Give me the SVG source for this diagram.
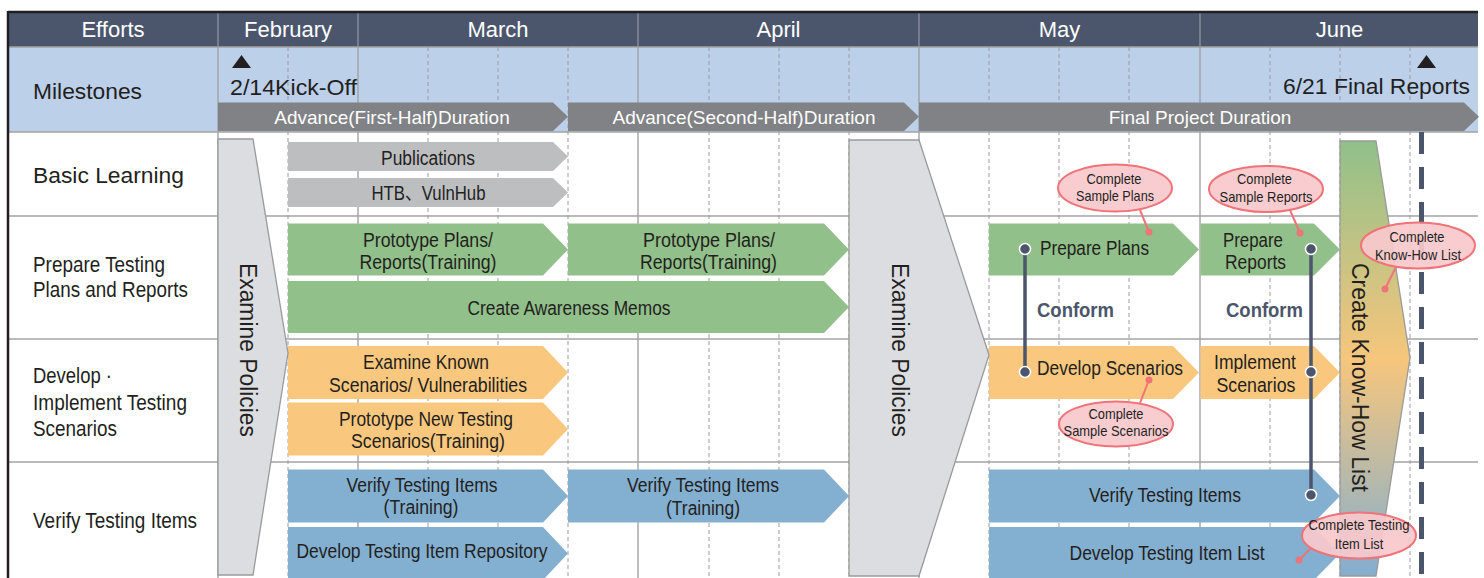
<svg xmlns="http://www.w3.org/2000/svg" width="1484" height="578" viewBox="0 0 1484 578">
<defs>
<style>
text{font-family:"Liberation Sans",Arial,Helvetica,"Noto Sans CJK JP",sans-serif;fill:#231f20}
.hd{font-size:22px;fill:#ffffff;text-anchor:middle}
.lbl{font-size:21.5px}
.dur{font-size:19px;fill:#ffffff;text-anchor:middle}
.at{font-size:20px;text-anchor:middle}
.vt{font-size:23px;text-anchor:middle}
.cf{font-size:21px;font-weight:bold;fill:#4b556c;text-anchor:middle}
.co{font-size:15px;text-anchor:middle}
.gs{stroke:#a3a3a3;stroke-width:1.4;fill:none}
.gd{stroke:#9c9c9c;stroke-width:1;stroke-dasharray:4 3;fill:none}
.durb{fill:#808285}
.gr{fill:#bdbec0}
.gn{fill:#91c08a}
.or{fill:#f9c87e}
.bl{fill:#83afd0}
.ex{fill:#dcdde0;stroke:#9a9a9a;stroke-width:1.3}
.cl{stroke:#4b556c;stroke-width:3.5}
.cd{fill:#4b556c;stroke:#ffffff;stroke-width:1.5}
.pt{stroke:#ef7378;stroke-width:2}
.pd{fill:#ef7378}
.el{fill:#f9c9cc;fill-opacity:0.92;stroke:#ef7378;stroke-width:2}
</style>
<linearGradient id="khg" gradientUnits="userSpaceOnUse" x1="0" y1="141" x2="0" y2="576">
<stop offset="0" stop-color="#90c08a"/>
<stop offset="0.5" stop-color="#f6c67c"/>
<stop offset="1" stop-color="#84aecf"/>
</linearGradient>
</defs>

<g id="background">
<rect x="0" y="0" width="1484" height="578" fill="#ffffff"/>
<rect x="8" y="12" width="1470" height="35" fill="#4b566d"/>
<rect x="8" y="47" width="1470" height="85" fill="#bdd0ea"/>
</g>

<g id="grid">
<line class="gs" x1="8" y1="47" x2="1478" y2="47"/>
<line class="gs" x1="8" y1="132" x2="1478" y2="132"/>
<line class="gs" x1="8" y1="216" x2="1478" y2="216"/>
<line class="gs" x1="8" y1="339" x2="1478" y2="339"/>
<line class="gs" x1="8" y1="462" x2="1478" y2="462"/>
<g stroke="#8d93a0" stroke-width="1.3">
<line x1="218" y1="13" x2="218" y2="47"/>
<line x1="358" y1="13" x2="358" y2="47"/>
<line x1="638" y1="13" x2="638" y2="47"/>
<line x1="919" y1="13" x2="919" y2="47"/>
<line x1="1200" y1="13" x2="1200" y2="47"/>
</g>
<line class="gs" x1="218" y1="47" x2="218" y2="578"/>
<line class="gs" x1="358" y1="47" x2="358" y2="578"/>
<line class="gs" x1="638" y1="47" x2="638" y2="578"/>
<line class="gs" x1="919" y1="47" x2="919" y2="578"/>
<line class="gs" x1="1200" y1="47" x2="1200" y2="578"/>
<line class="gd" x1="288" y1="47" x2="288" y2="578"/>
<line class="gd" x1="428" y1="47" x2="428" y2="578"/>
<line class="gd" x1="498" y1="47" x2="498" y2="578"/>
<line class="gd" x1="568" y1="47" x2="568" y2="578"/>
<line class="gd" x1="709" y1="47" x2="709" y2="578"/>
<line class="gd" x1="779" y1="47" x2="779" y2="578"/>
<line class="gd" x1="849" y1="47" x2="849" y2="578"/>
<line class="gd" x1="989" y1="47" x2="989" y2="578"/>
<line class="gd" x1="1059" y1="47" x2="1059" y2="578"/>
<line class="gd" x1="1129" y1="47" x2="1129" y2="578"/>
<line class="gd" x1="1270" y1="47" x2="1270" y2="578"/>
<line class="gd" x1="1340" y1="47" x2="1340" y2="578"/>
<line class="gd" x1="1410" y1="47" x2="1410" y2="578"/>
<line x1="8" y1="12" x2="1478" y2="12" stroke="#231f20" stroke-width="2.5"/>
<line x1="8" y1="11" x2="8" y2="578" stroke="#231f20" stroke-width="2.5"/>
</g>

<g id="header">
<text class="hd" x="113" y="37">Efforts</text>
<text class="hd" x="288" y="37">February</text>
<text class="hd" x="498" y="37">March</text>
<text class="hd" x="778.5" y="37">April</text>
<text class="hd" x="1059.5" y="37">May</text>
<text class="hd" x="1339.5" y="37">June</text>
</g>

<g id="row-labels">
<text class="lbl" x="33" y="99" textLength="109" lengthAdjust="spacingAndGlyphs">Milestones</text>
<text class="lbl" x="33" y="183" textLength="151" lengthAdjust="spacingAndGlyphs">Basic Learning</text>
<text class="lbl" x="33" y="271.5" textLength="132" lengthAdjust="spacingAndGlyphs">Prepare Testing</text>
<text class="lbl" x="33" y="296.5" textLength="155" lengthAdjust="spacingAndGlyphs">Plans and Reports</text>
<text class="lbl" x="33" y="383" textLength="79" lengthAdjust="spacingAndGlyphs">Develop ·</text>
<text class="lbl" x="33" y="410" textLength="154" lengthAdjust="spacingAndGlyphs">Implement Testing</text>
<text class="lbl" x="33" y="436" textLength="84" lengthAdjust="spacingAndGlyphs">Scenarios</text>
<text class="lbl" x="33" y="528" textLength="164" lengthAdjust="spacingAndGlyphs">Verify Testing Items</text>
</g>

<g id="milestone-kickoff">
<polygon points="232,68 241.5,55 251,68" fill="#231f20"/>
<text x="230" y="95" font-size="22" textLength="127" lengthAdjust="spacingAndGlyphs">2/14Kick-Off</text>
</g>
<g id="milestone-final">
<polygon points="1417,68 1426.5,55 1436,68" fill="#231f20"/>
<text x="1283" y="94" font-size="22" textLength="187" lengthAdjust="spacingAndGlyphs">6/21 Final Reports</text>
</g>

<g id="duration-first">
<polygon class="durb" points="218,102.5 553,102.5 568,116.75 553,131 218,131"/>
<text class="dur" x="392" y="123.5">Advance(First-Half)Duration</text>
</g>
<g id="duration-second">
<polygon class="durb" points="568,102.5 904,102.5 919,116.75 904,131 568,131"/>
<text class="dur" x="744" y="123.5">Advance(Second-Half)Duration</text>
</g>
<g id="duration-final">
<polygon class="durb" points="919,102.5 1464,102.5 1479,116.75 1464,131 919,131"/>
<text class="dur" x="1200" y="123.5">Final Project Duration</text>
</g>

<g id="publications">
<polygon class="gr" points="288,142 553,142 568,156.5 553,171 288,171"/>
<text class="at" x="428" y="165" textLength="94" lengthAdjust="spacingAndGlyphs">Publications</text>
</g>
<g id="htb">
<polygon class="gr" points="288,178 553,178 568,192.5 553,207 288,207"/>
<text class="at" x="428.5" y="200" textLength="114" lengthAdjust="spacingAndGlyphs">HTB、VulnHub</text>
</g>

<g id="prototype-plans-1">
<polygon class="gn" points="288,223.5 543,223.5 568,249.5 543,275.5 288,275.5"/>
<text class="at" x="428" y="246.5" textLength="130" lengthAdjust="spacingAndGlyphs">Prototype Plans/</text>
<text class="at" x="428" y="268.5" textLength="137" lengthAdjust="spacingAndGlyphs">Reports(Training)</text>
</g>
<g id="prototype-plans-2">
<polygon class="gn" points="568,223.5 824,223.5 849,249.5 824,275.5 568,275.5"/>
<text class="at" x="709" y="246.5" textLength="132" lengthAdjust="spacingAndGlyphs">Prototype Plans/</text>
<text class="at" x="708.5" y="268.5" textLength="137" lengthAdjust="spacingAndGlyphs">Reports(Training)</text>
</g>
<g id="awareness-memos">
<polygon class="gn" points="288,281 824,281 849,307 824,333 288,333"/>
<text class="at" x="569" y="315" textLength="203" lengthAdjust="spacingAndGlyphs">Create Awareness Memos</text>
</g>
<g id="prepare-plans">
<polygon class="gn" points="989,223.5 1173,223.5 1199,249.5 1173,275.5 989,275.5"/>
<text class="at" x="1094.5" y="255" textLength="109" lengthAdjust="spacingAndGlyphs">Prepare Plans</text>
</g>
<g id="prepare-reports">
<polygon class="gn" points="1200.5,223.5 1314,223.5 1340,249.5 1314,275.5 1200.5,275.5"/>
<text class="at" x="1253" y="246.5" textLength="60" lengthAdjust="spacingAndGlyphs">Prepare</text>
<text class="at" x="1255.5" y="268.5" textLength="61" lengthAdjust="spacingAndGlyphs">Reports</text>
</g>

<g id="examine-known">
<polygon class="or" points="288,346 543,346 568,372.5 543,399 288,399"/>
<text class="at" x="426" y="369" textLength="126" lengthAdjust="spacingAndGlyphs">Examine Known</text>
<text class="at" x="428" y="391.5" textLength="198" lengthAdjust="spacingAndGlyphs">Scenarios/ Vulnerabilities</text>
</g>
<g id="prototype-scenarios">
<polygon class="or" points="288,402.5 543,402.5 568,429 543,455.5 288,455.5"/>
<text class="at" x="426" y="426" textLength="174" lengthAdjust="spacingAndGlyphs">Prototype New Testing</text>
<text class="at" x="428" y="448" textLength="154" lengthAdjust="spacingAndGlyphs">Scenarios(Training)</text>
</g>
<g id="develop-scenarios">
<polygon class="or" points="989,346 1173,346 1199,372.5 1173,399 989,399"/>
<text class="at" x="1110" y="375" textLength="146" lengthAdjust="spacingAndGlyphs">Develop Scenarios</text>
</g>
<g id="implement-scenarios">
<polygon class="or" points="1200.5,346 1314,346 1340,372.5 1314,399 1200.5,399"/>
<text class="at" x="1255" y="369" textLength="82" lengthAdjust="spacingAndGlyphs">Implement</text>
<text class="at" x="1256" y="391.5" textLength="79" lengthAdjust="spacingAndGlyphs">Scenarios</text>
</g>

<g id="verify-items-1">
<polygon class="bl" points="288,469.5 543,469.5 568,496 543,522.5 288,522.5"/>
<text class="at" x="422" y="491.5" textLength="151" lengthAdjust="spacingAndGlyphs">Verify Testing Items</text>
<text class="at" x="421" y="514" textLength="75" lengthAdjust="spacingAndGlyphs">(Training)</text>
</g>
<g id="item-repository">
<polygon class="bl" points="288,527 543,527 568,553.5 543,580 288,580"/>
<text class="at" x="422" y="558" textLength="251" lengthAdjust="spacingAndGlyphs">Develop Testing Item Repository</text>
</g>
<g id="verify-items-2">
<polygon class="bl" points="568,469.5 824,469.5 849,496 824,522.5 568,522.5"/>
<text class="at" x="703" y="491.5" textLength="152" lengthAdjust="spacingAndGlyphs">Verify Testing Items</text>
<text class="at" x="703" y="514.5" textLength="74" lengthAdjust="spacingAndGlyphs">(Training)</text>
</g>
<g id="verify-items-3">
<polygon class="bl" points="989,469.5 1314,469.5 1340,496 1314,522.5 989,522.5"/>
<text class="at" x="1165" y="502" textLength="152" lengthAdjust="spacingAndGlyphs">Verify Testing Items</text>
</g>
<g id="item-list">
<polygon class="bl" points="989,527 1314,527 1340,553.5 1314,580 989,580"/>
<text class="at" x="1167" y="560" textLength="195" lengthAdjust="spacingAndGlyphs">Develop Testing Item List</text>
</g>

<g id="examine-policies-1">
<polygon class="ex" points="218,139 253,139 288,353 253,575 218,575"/>
<text class="vt" transform="translate(240,350) rotate(90)" textLength="174" lengthAdjust="spacingAndGlyphs">Examine Policies</text>
</g>
<g id="examine-policies-2">
<polygon class="ex" points="849,140 919,140 989,355 919,576 849,576"/>
<text class="vt" transform="translate(892,350) rotate(90)" textLength="174" lengthAdjust="spacingAndGlyphs">Examine Policies</text>
</g>
<g id="know-how-list">
<polygon points="1340,141 1376,141 1410,358 1376,576 1340,576" fill="url(#khg)" stroke="#9a9a9a" stroke-width="1.3"/>
<text class="vt" transform="translate(1352,377.5) rotate(90)" textLength="229" lengthAdjust="spacingAndGlyphs">Create Know-How List</text>
</g>

<g id="final-report-line">
<line x1="1421.5" y1="132" x2="1421.5" y2="578" stroke="#4b556c" stroke-width="5" stroke-dasharray="22 13"/>
</g>

<g id="connectors">
<line class="cl" x1="1025" y1="249" x2="1025" y2="372"/>
<line class="cl" x1="1311" y1="249" x2="1311" y2="495"/>
<circle class="cd" cx="1025" cy="249" r="5.5"/>
<circle class="cd" cx="1025" cy="372" r="5.5"/>
<circle class="cd" cx="1311" cy="249" r="5.5"/>
<circle class="cd" cx="1311" cy="372" r="5.5"/>
<circle class="cd" cx="1311" cy="495" r="5.5"/>
<text class="cf" x="1075.5" y="317" textLength="77" lengthAdjust="spacingAndGlyphs">Conform</text>
<text class="cf" x="1264.5" y="317" textLength="77" lengthAdjust="spacingAndGlyphs">Conform</text>
<line class="pt" x1="1140" y1="210" x2="1149" y2="232"/>
<circle class="pd" cx="1149" cy="232" r="3.5"/>
<line class="pt" x1="1290" y1="210" x2="1300" y2="233"/>
<circle class="pd" cx="1300" cy="233" r="3.5"/>
<line class="pt" x1="1396" y1="267" x2="1385" y2="289"/>
<circle class="pd" cx="1385" cy="289" r="3.5"/>
<line class="pt" x1="1140" y1="403" x2="1149" y2="380"/>
<circle class="pd" cx="1149" cy="380" r="3.5"/>
<line class="pt" x1="1313" y1="546" x2="1299" y2="560"/>
<circle class="pd" cx="1299" cy="560" r="3.5"/>
</g>

<g id="callout-sample-plans">
<ellipse class="el" cx="1115" cy="188" rx="57" ry="23.5"/>
<text class="co" x="1114" y="184" textLength="55" lengthAdjust="spacingAndGlyphs">Complete</text>
<text class="co" x="1115" y="200.5" textLength="78" lengthAdjust="spacingAndGlyphs">Sample Plans</text>
</g>
<g id="callout-sample-reports">
<ellipse class="el" cx="1266" cy="189" rx="57" ry="23"/>
<text class="co" x="1264.5" y="184" textLength="55" lengthAdjust="spacingAndGlyphs">Complete</text>
<text class="co" x="1266" y="201.5" textLength="93" lengthAdjust="spacingAndGlyphs">Sample Reports</text>
</g>
<g id="callout-know-how">
<ellipse class="el" cx="1418" cy="245.5" rx="57" ry="23"/>
<text class="co" x="1417" y="242" textLength="55" lengthAdjust="spacingAndGlyphs">Complete</text>
<text class="co" x="1418" y="260" textLength="86" lengthAdjust="spacingAndGlyphs">Know-How List</text>
</g>
<g id="callout-sample-scenarios">
<ellipse class="el" cx="1116" cy="424" rx="57" ry="22.5"/>
<text class="co" x="1116" y="418.5" textLength="55" lengthAdjust="spacingAndGlyphs">Complete</text>
<text class="co" x="1116" y="436" textLength="105" lengthAdjust="spacingAndGlyphs">Sample Scenarios</text>
</g>
<g id="callout-item-list">
<ellipse class="el" cx="1359" cy="535.5" rx="57" ry="23"/>
<text class="co" x="1359" y="530" textLength="101" lengthAdjust="spacingAndGlyphs">Complete Testing</text>
<text class="co" x="1359" y="548.5" textLength="48.5" lengthAdjust="spacingAndGlyphs">Item List</text>
</g>
</svg>
